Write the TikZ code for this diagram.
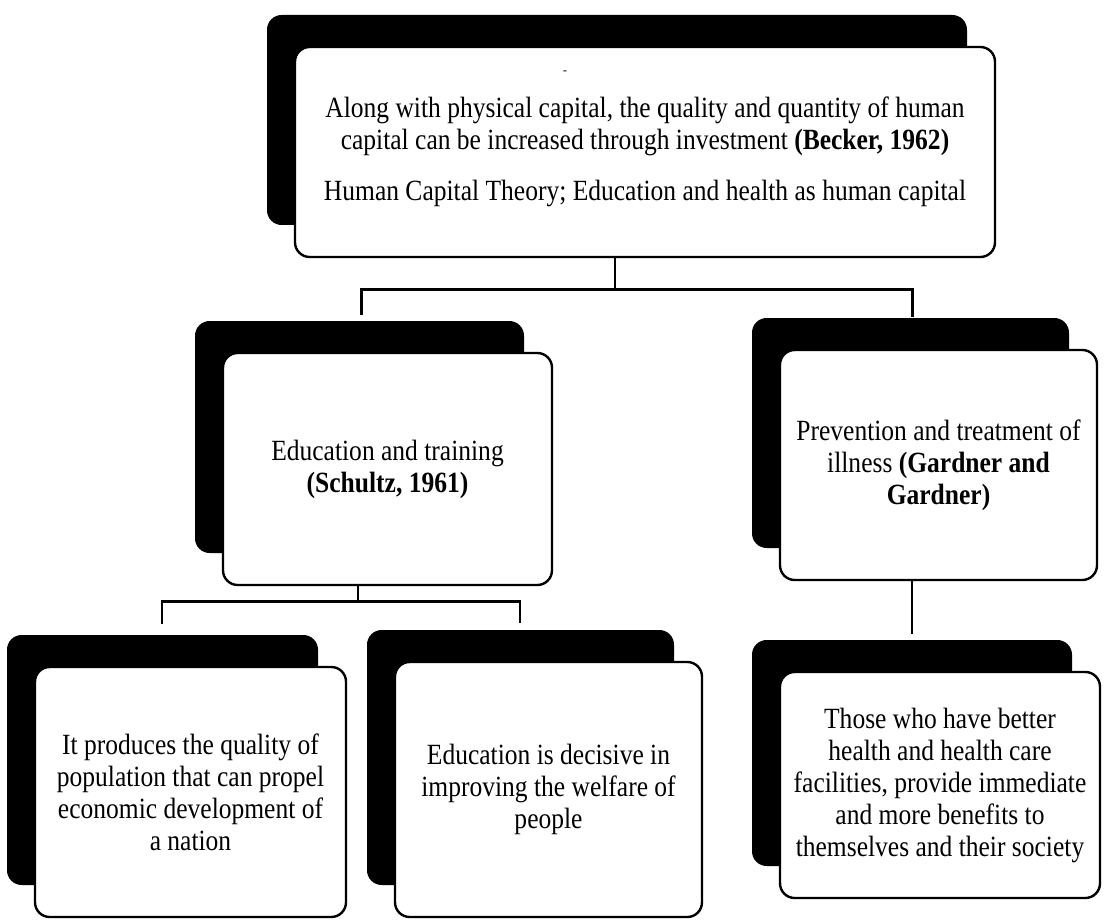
\documentclass[tikz,border=0pt]{standalone}
\usepackage{fontspec}
\setmainfont{Liberation Serif}[FakeStretch=0.87]
\usetikzlibrary{shadows,calc}

\tikzset{
  % white rounded box with a solid black block offset to the upper left
  cardbox/.style={
    draw=black, fill=white, line width=1.8pt, rounded corners=11pt,
    align=center, inner sep=4pt,
    font=\fontsize{22}{24}\selectfont,
    general shadow={fill=black, shadow xshift=-21pt, shadow yshift=24pt}
  },
  boxsize/.style 2 args={minimum width=#1*0.75pt, minimum height=#2*0.75pt},
  link/.style={draw=black, line width=2.2pt}
}

\begin{document}
\begin{tikzpicture}[x=0.75pt, y=-0.75pt]
\useasboundingbox (0,0) rectangle (1107,920);

% boxes
\node[cardbox, boxsize={700}{210}] (top) at (645,152)
  {Along with physical capital, the quality and quantity of human\\
   capital can be increased through investment \textbf{(Becker, 1962)}\\[14pt]
   Human Capital Theory; Education and health as human capital};
\node[font=\fontsize{10}{12}\selectfont, inner sep=0pt] (dash) at (565,73) {-};

\node[cardbox, boxsize={329}{232}] (edu) at (387.5,469)
  {Education and training\\ \textbf{(Schultz, 1961)}};
\node[cardbox, boxsize={317}{230}] (pre) at (938.5,465)
  {Prevention and treatment of\\ illness \textbf{(Gardner and}\\ \textbf{Gardner)}};

\node[cardbox, boxsize={311}{250}] (bl) at (190.5,792)
  {It produces the quality of\\ population that can propel\\ economic development of\\ a nation};
\node[cardbox, boxsize={307}{255}] (mid) at (548.5,789.5)
  {Education is decisive in\\ improving the welfare of\\ people};
\node[cardbox, boxsize={320}{226}] (br) at (940,785)
  {Those who have better\\ health and health care\\ facilities, provide immediate\\ and more benefits to\\ themselves and their society};

% connectors: top level
\draw[link] ($(top.south)+(-30,0)$) -- ++(0,31) coordinate (bus1);
\coordinate (eduJ) at ($(edu.north)+(-26,-37)$);
\coordinate (preJ) at ($(pre.north)+(-26,-32)$);
\draw[link] (eduJ) |- (preJ |- bus1) -- (preJ);

% connectors: education branch
\draw[link] ($(edu.south)+(-29.5,0)$) -- ++(0,15) coordinate (bus2);
\coordinate (blJ) at ($(bl.north)+(-28.5,-42)$);
\coordinate (midJ) at ($(mid.north)+(-28.5,-38)$);
\draw[link] (blJ) |- (midJ |- bus2) -- (midJ);

% connector: health branch
\draw[link] ($(pre.south)+(-26.5,0)$) -- ($(br.north)+(-28,-37)$);
\end{tikzpicture}
\end{document}
